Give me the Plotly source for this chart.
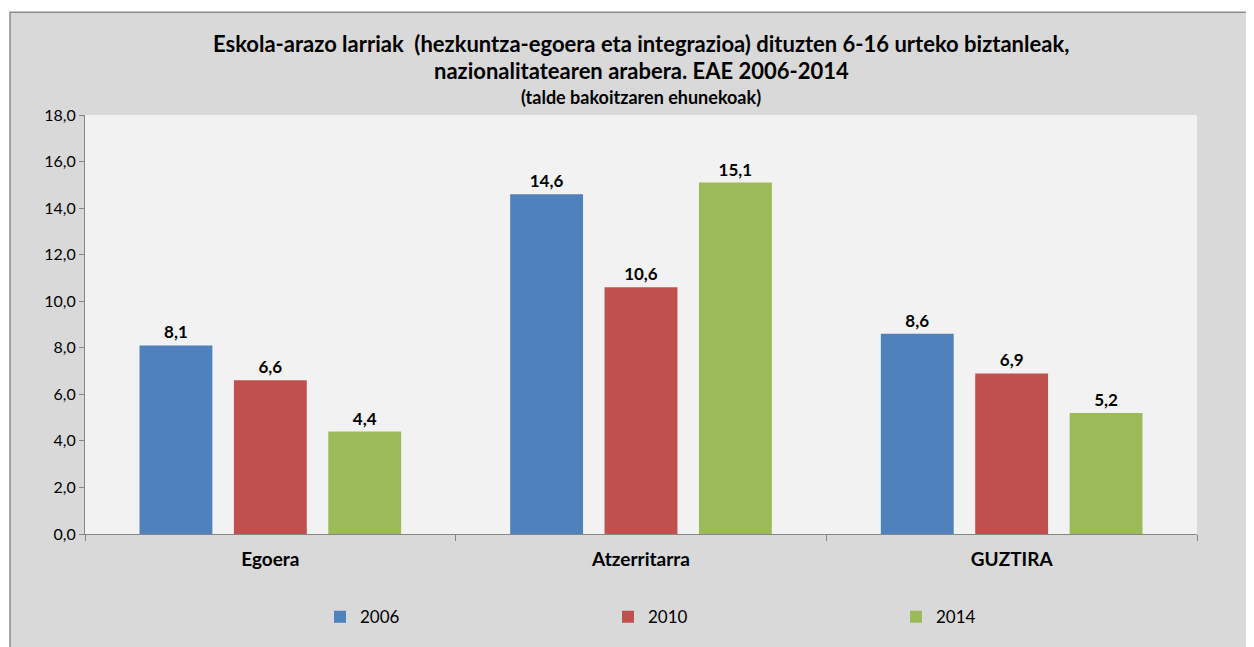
import plotly.graph_objects as go

categories = ["Egoera", "Atzerritarra", "GUZTIRA"]
years = ["2006", "2010", "2014"]
values_2006 = [8.1, 14.6, 8.6]
values_2010 = [6.6, 10.6, 6.9]
values_2014 = [4.4, 15.1, 5.2]
colors = ["#4F81BD", "#C0504D", "#9BBB59"]

title_lines = [
    "Eskola-arazo larriak  (hezkuntza-egoera eta integrazioa) dituzten 6-16 urteko biztanleak,",
    "nazionalitatearen arabera. EAE 2006-2014",
    "(talde bakoitzaren ehunekoak)",
]

FONT = "Lato, Noto Sans, sans-serif"

fig = go.Figure()
for year, vals, col in zip(years, [values_2006, values_2010, values_2014], colors):
    fig.add_trace(go.Bar(
        x=categories, y=vals, name=year,
        marker=dict(color=col, line=dict(width=0)),
        texttemplate="%{y:.1f}", textposition="outside",
        textfont=dict(family=FONT, size=17, color="#000000", weight="bold"),
        cliponaxis=False,
    ))

# page body has an 8px margin, so the figure is sized / placed in page px minus 8
OFF = 8
W, H = 1254 - OFF, 647 - OFF
L, R, T, B = 85 - OFF, 1254 - 1197, 115 - OFF, 647 - 543
pw, ph = W - L - R, H - T - B

def px_x(p):
    return (p - OFF - L) / pw

def px_y(p):
    return (H - B - (p - OFF)) / ph

fig.add_shape(type="rect", xref="paper", yref="paper",
              x0=px_x(10), x1=px_x(1300), y0=px_y(10), y1=px_y(700),
              fillcolor="#D9D9D9", line=dict(color="#8C8C8C", width=1.5), layer="below")
fig.add_shape(type="rect", xref="paper", yref="paper",
              x0=0, x1=1, y0=0, y1=1,
              fillcolor="#F2F2F2", line=dict(width=0), layer="below")

for txt, ypx, size in zip(title_lines, [42, 70, 97], [22, 22, 18]):
    fig.add_annotation(
        text="<b>" + txt + "</b>", xref="paper", yref="paper",
        x=px_x(641), y=px_y(ypx), xanchor="center", yanchor="middle",
        showarrow=False, font=dict(family=FONT, size=size, color="#000000"),
    )

fig.update_layout(
    width=W, height=H,
    margin=dict(l=L, r=R, t=T, b=B),
    paper_bgcolor="#FFFFFF",
    plot_bgcolor="rgba(0,0,0,0)",
    separators=",.",
    barmode="group", bargap=0.236, bargroupgap=0.228,
    font=dict(family=FONT, color="#000000"),
    legend=dict(
        orientation="h", x=px_x(320), xanchor="left", y=px_y(628), yanchor="middle",
        entrywidth=243, entrywidthmode="pixels",
        font=dict(family=FONT, size=17, color="#000000"),
        bgcolor="rgba(0,0,0,0)", itemclick=False,
    ),
    showlegend=True,
)
fig.update_yaxes(
    range=[0, 18], dtick=2, tickformat=".1f",
    showgrid=False, zeroline=False,
    showline=True, linecolor="#868686", linewidth=1,
    ticks="outside", ticklen=5, tickcolor="#868686",
    tickfont=dict(family=FONT, size=16, color="#000000"),
)
fig.update_xaxes(
    showgrid=False, showline=True, linecolor="#868686", linewidth=1,
    ticks="outside", tickson="boundaries", ticklen=6, tickcolor="#868686",
    ticklabelstandoff=8,
    tickfont=dict(family=FONT, size=19, color="#000000", weight="bold"),
)

fig.write_html("out.html")
